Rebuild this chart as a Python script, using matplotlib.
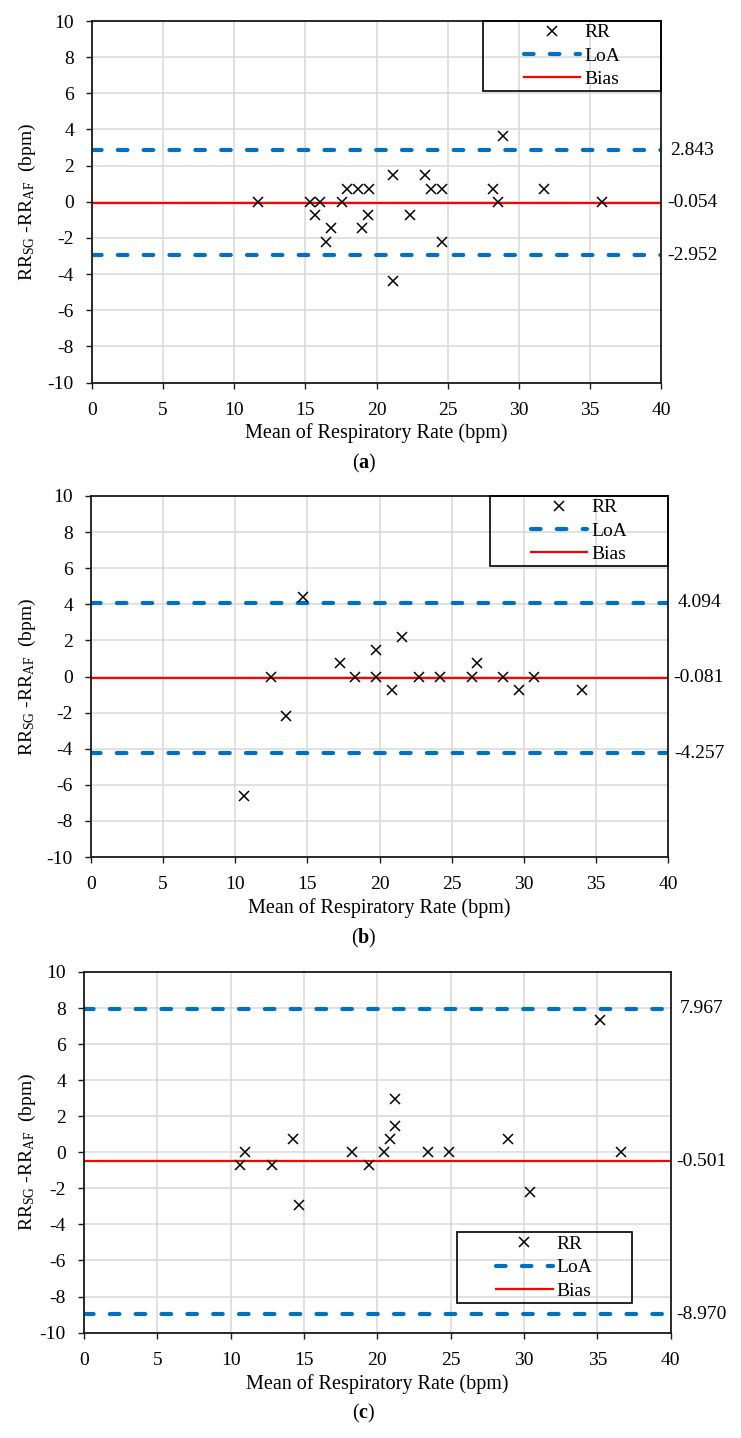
import matplotlib
matplotlib.use("Agg")
import matplotlib.pyplot as plt
from matplotlib.patches import Rectangle
from matplotlib.lines import Line2D

plt.rcParams['font.family'] = ['Liberation Serif', 'DejaVu Serif']
plt.rcParams['mathtext.fontset'] = 'custom'
plt.rcParams['mathtext.rm'] = 'Liberation Serif'
plt.rcParams['mathtext.it'] = 'Liberation Serif:italic'
plt.rcParams['mathtext.bf'] = 'Liberation Serif:bold'
plt.rcParams['axes.unicode_minus'] = False

# ---------------- data ----------------
a_x = [11.67, 15.35, 16.05, 15.68, 16.8, 16.43, 17.56, 17.93, 18.68, 19.44, 19.39, 19.01,
       21.19, 21.19, 22.32, 23.4, 23.82, 24.57, 24.57, 28.16, 28.53, 28.88, 31.79, 35.85]
a_y = [0, 0, 0, -0.73, -1.46, -2.2, 0, 0.73, 0.73, 0.73, -0.73, -1.46,
       1.46, -4.39, -0.73, 1.46, 0.73, 0.73, -2.2, 0.73, 0, 3.66, 0.73, 0]
a_stats = [2.843, -0.054, -2.952]   # upper LoA, bias, lower LoA

b_x = [10.61, 12.49, 13.55, 14.67, 17.24, 18.28, 19.78, 19.78, 20.87, 21.59, 22.73, 24.16,
       26.38, 26.73, 28.54, 29.67, 30.74, 34.05]
b_y = [-6.6, 0, -2.2, 4.4, 0.73, 0, 1.46, 0, -0.73, 2.2, 0, 0, 0, 0.73, 0, -0.73, 0, -0.73]
b_stats = [4.094, -0.081, -4.257]

c_x = [10.63, 11.0, 12.8, 14.27, 14.66, 18.29, 19.41, 20.49, 20.9, 21.24, 21.24, 23.44,
       24.9, 28.93, 30.41, 35.17, 36.63]
c_y = [-0.73, 0, -0.73, 0.73, -2.93, 0, -0.73, 0, 0.73, 1.46, 2.93, 0, 0, 0.73, -2.2, 7.32, 0]
c_stats = [7.967, -0.501, -8.970]

panel_letters = ['a', 'b', 'c']
x_ticks = [0, 5, 10, 15, 20, 25, 30, 35, 40]
y_ticks = [-10, -8, -6, -4, -2, 0, 2, 4, 6, 8, 10]
x_title = 'Mean of Respiratory Rate (bpm)'
y_title = r'RR$_{\mathrm{SG}}$ -RR$_{\mathrm{AF}}$  (bpm)'
legend_labels = ['RR', 'LoA', 'Bias']

# ---------------- layout (pixels) ----------------
W, H = 741, 1438
fig = plt.figure(figsize=(W / 100, H / 100), dpi=100)

# left, right, top, bottom in pixels
boxes = [(92, 661, 21, 382.5), (91, 668, 496, 857), (84, 670.6, 972, 1332.6)]
# legend rectangles in pixels (left, right, top, bottom)
leg_boxes = [(483, 661, 21, 91), (490, 668, 496, 566), (456.7, 631.7, 1232.3, 1302.7)]

datasets = [(a_x, a_y, a_stats), (b_x, b_y, b_stats), (c_x, c_y, c_stats)]

BLUE = '#0070C0'
RED = '#FF0000'
GRID = '#D9D9D9'
FS = 14

for i, ((l, r, t, b), (xs, ys, st), lb) in enumerate(zip(boxes, datasets, leg_boxes)):
    ax = fig.add_axes([l / W, 1 - b / H, (r - l) / W, (b - t) / H])
    ax.set_xlim(0, 40)
    ax.set_ylim(-10, 10)
    ax.set_xticks(x_ticks)
    ax.set_yticks(y_ticks)
    ax.grid(True, color=GRID, linewidth=1.1, zorder=0)
    ax.set_axisbelow(True)
    for s in ax.spines.values():
        s.set_color('#1a1a1a')
        s.set_linewidth(1.3)
    ax.tick_params(axis='both', direction='out', length=4.5, width=1.0, colors='#1a1a1a',
                   labelsize=FS, labelcolor='black')
    ax.tick_params(axis='y', pad=8.5)
    ax.tick_params(axis='x', pad=9.5)

    up, bias, lo = st
    ax.axhline(up, color=BLUE, linewidth=3.0, linestyle=(0, (2.3, 3.9)),
               dash_capstyle='round', zorder=2)
    ax.axhline(lo, color=BLUE, linewidth=3.0, linestyle=(0, (2.3, 3.9)),
               dash_capstyle='round', zorder=2)
    ax.axhline(bias, color=RED, linewidth=1.6, zorder=2)
    ax.plot(xs, ys, linestyle='none', marker='x', color='black', markersize=7.5,
            markeredgewidth=1.1, zorder=3)

    for v in st:
        ax.annotate(f'{v:.3f}', xy=(1, v), xycoords=('axes fraction', 'data'),
                    xytext=(31, 0), textcoords='offset pixels', ha='center', va='center',
                    fontsize=FS, annotation_clip=False)

    # legend box
    aw, ah = r - l, b - t
    rx0 = (lb[0] - l) / aw
    rx1 = (lb[1] - l) / aw
    ry1 = 1 - (lb[2] - t) / ah
    ry0 = 1 - (lb[3] - t) / ah
    ax.add_patch(Rectangle((rx0, ry0), rx1 - rx0, ry1 - ry0, transform=ax.transAxes,
                           fill=False, edgecolor='black', linewidth=1.2, zorder=5,
                           clip_on=False))
    handles = [
        Line2D([], [], linestyle='none', marker='x', color='black', markersize=7.5,
               markeredgewidth=1.1),
        Line2D([], [], color=BLUE, linewidth=3.0, linestyle=(0, (2.3, 3.9)),
               dash_capstyle='round'),
        Line2D([], [], color=RED, linewidth=1.6),
    ]
    ax.legend(handles, legend_labels, loc='center',
              bbox_to_anchor=((rx0 + rx1) / 2, (ry0 + ry1) / 2), bbox_transform=ax.transAxes,
              frameon=False, fontsize=FS, handlelength=2.9, handletextpad=0.2,
              labelspacing=0.3, borderpad=0.0, numpoints=1)

    # axis titles
    cy = 1 - ((t + b) / 2) / H
    fig.text(27 / W, cy, y_title, rotation=90, ha='center', va='center', fontsize=FS)
    fig.text((l + r) / 2 / W, 1 - (b + 51) / H, x_title, ha='center', va='center',
             fontsize=14.5)
    fig.text(364 / W, 1 - (b + 81) / H, '(' + r'$\mathbf{' + panel_letters[i] + '}$' + ')',
             ha='center', va='center', fontsize=14.5)

fig.savefig('out.png', dpi=100)
